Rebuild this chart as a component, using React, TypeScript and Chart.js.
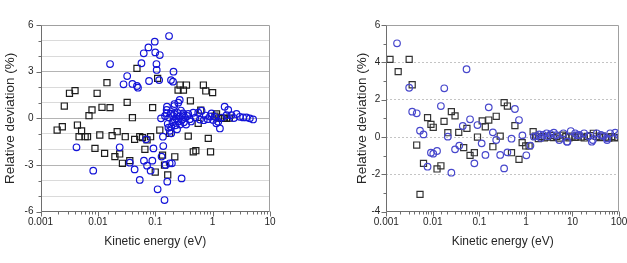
import React, { useEffect, useRef } from 'react';
import { Chart, registerables } from 'chart.js';

Chart.register(...registerables);

const FONT = '"Liberation Sans", Arial, Helvetica, sans-serif';
const TEXT = '#262626';

// ---- Panel A: energies up to 10 eV ----
const leftTickLabels = ['0.001', '0.01', '0.1', '1', '10'];

const leftSquareEnergy = [
  0.00195, 0.0024, 0.0026, 0.0032, 0.004, 0.0044, 0.0047, 0.0052, 0.006, 0.0066,
  0.007, 0.0079, 0.0089, 0.0097, 0.0108, 0.0118, 0.0131, 0.0144, 0.0163, 0.0177,
  0.0198, 0.0217, 0.024, 0.0268, 0.03, 0.0324, 0.036, 0.04, 0.0437, 0.048,
  0.0537, 0.06, 0.066, 0.072, 0.083, 0.09, 0.1, 0.11, 0.12, 0.134,
  0.145, 0.165, 0.178, 0.219, 0.25, 0.27, 0.31, 0.35, 0.376, 0.41,
  0.46, 0.51, 0.56, 0.62, 0.69, 0.76, 0.84, 0.92, 1.0, 1.1,
  1.17, 1.28, 1.44, 1.6, 1.75, 1.95,
];
const leftSquareDev = [
  -0.75, -0.54, 0.79, 1.61, 1.78, -0.43, -1.18, -0.81, -1.18, -1.18,
  0.17, 0.54, -1.93, 1.61, -1.07, 0.71, -2.25, 2.29, 0.69, -1.11,
  -2.46, -0.86, -2.29, -2.89, -1.18, 1.03, -2.72, 0.04, -1.35, 3.21,
  -1.18, -1.24, -1.99, -1.39, -1.18, 0.69, -3.45, 2.57, -0.75, -2.36,
  -3.0, -3.64, -0.96, -2.47, 1.82, 2.14, 1.82, 2.14, -1.14, 1.13,
  -2.15, -2.08, -0.32, 0.53, 2.14, 1.76, -1.29, -2.15, 1.65, 0.15,
  0.28, 0.02, 0.0, 0.0, 0.0, 0.02,
];

const leftCircleEnergy = [
  0.00424, 0.0083, 0.0163, 0.024, 0.028, 0.0324, 0.036, 0.04, 0.0437, 0.048,
  0.05, 0.0537, 0.0575, 0.063, 0.0635, 0.069, 0.072, 0.076, 0.078, 0.083,
  0.089, 0.093, 0.098, 0.1, 0.105, 0.106, 0.11, 0.117, 0.12, 0.126,
  0.129, 0.136, 0.138, 0.145, 0.148, 0.151, 0.158, 0.16, 0.162, 0.174,
  0.178, 0.188, 0.19, 0.195, 0.204, 0.208, 0.216, 0.288, 0.267,
  0.158, 0.165, 0.17, 0.175, 0.18, 0.185, 0.19, 0.2, 0.205, 0.214,
  0.214, 0.22, 0.225, 0.232, 0.24, 0.245, 0.252, 0.255, 0.26, 0.27,
  0.28, 0.29, 0.3, 0.307, 0.315, 0.33, 0.345, 0.36, 0.376, 0.4,
  0.42, 0.459, 0.5, 0.561, 0.6, 0.641, 0.7, 0.76, 0.82, 0.9,
  0.957, 1.02, 1.09, 1.16, 1.25, 1.34, 1.45, 1.62, 1.75, 1.87,
  2.13, 2.35, 2.61, 2.98, 3.4, 3.89, 4.45, 5.08,
];
const leftCircleDev = [
  -1.86, -3.36, 3.49, -1.86, 2.19, 2.72, -2.85, 2.21, -3.28, 2.08,
  1.97, -3.96, 3.54, 4.18, -2.72, -1.35, -3.04, 4.56, 2.4, -3.36,
  -2.72, -1.93, 4.93, 4.24, 3.49, 3.11, -4.56, 2.46, 4.07, 0.0,
  -2.46, -1.18, -1.78, -5.25, 0.15, -3.0, 0.54, 0.75, -4.07, 5.29,
  -2.89, 2.46, -0.96, -2.89, 2.36, 3.0, 0.92, -3.86, 1.18,
  0.32, -0.35, -0.6, 0.05, -0.8, 0.3, -0.55, -0.25, 0.15, 0.79,
  0.28, -0.1, -0.45, 0.0, -0.7, 0.35, 1.01, -0.2, 0.1, -0.4,
  0.5, -0.1, 0.2, 0.32, -0.25, 0.05, -0.4, 0.15, 0.28, -0.05,
  -0.2, 0.36, 0.05, 0.36, -0.08, 0.49, -0.12, 0.18, -0.05, 0.12,
  0.32, -0.1, 0.1, -0.32, -0.22, -0.65, 0.05, 0.75, 0.2, 0.54,
  0.21, 0.02, 0.28, 0.1, 0.06, 0.06, 0.0, -0.07,
];

// ---- Panel B: energies up to 100 eV ----
const rightTickLabels = ['0.001', '0.01', '0.1', '1', '10', '100'];

const rightSquareEnergy = [
  0.0012, 0.0018, 0.0031, 0.0036, 0.0045, 0.0053, 0.0063, 0.0077, 0.0091, 0.0102,
  0.0123, 0.0149, 0.0174, 0.021, 0.025, 0.03, 0.036, 0.046, 0.054, 0.063,
  0.078, 0.091, 0.115, 0.134, 0.159, 0.195, 0.23, 0.28, 0.34, 0.4,
  0.49, 0.58, 0.71, 0.83, 0.99, 1.17, 1.43,
  1.6, 1.85, 2.15, 2.5, 2.9, 3.4, 3.9, 4.6, 5.3, 6.2,
  7.2, 8.4, 9.8, 11.4, 13.2, 15.4, 17.9, 20.8, 24.2, 28.1,
  32.7, 38, 44, 51, 60, 70, 81, 94,
];
const rightSquareDev = [
  4.16, 3.5, 4.16, 2.8, -0.43, -3.07, -1.41, 1.04, 0.68, 0.52,
  -1.71, -1.54, 0.84, 0.23, 1.36, 1.13, 0.25, -0.57, 0.46, -0.98,
  -0.84, 0.0, 0.86, 0.55, 0.91, -0.52, 1.11, 0.05, 1.84, 1.66,
  -0.84, 0.61, -1.2, -0.3, -0.48, -0.48, 0.29,
  0.05, -0.08, 0.02, -0.05, 0.0, 0.08, -0.03, 0.04, -0.06, 0.1,
  0.02, -0.04, 0.05, -0.02, 0.06, 0.0, -0.05, 0.03, 0.08, 0.2,
  0.04, -0.03, 0.05, 0.0, -0.06, 0.02, -0.04, -0.02,
];

const rightCircleEnergy = [
  0.0017, 0.0031, 0.0036, 0.0045, 0.0053, 0.0063, 0.0077, 0.0091, 0.0102, 0.0123,
  0.0149, 0.0176, 0.021, 0.025, 0.03, 0.037, 0.044, 0.053, 0.063, 0.078,
  0.091, 0.112, 0.135, 0.159, 0.195, 0.23, 0.28, 0.34, 0.4, 0.49,
  0.58, 0.71, 0.84, 1.02, 1.25, 1.48,
  1.7, 1.93, 2.1, 2.34, 2.78, 3.0, 3.39, 3.98, 4.5, 5.2,
  6.4, 7.6, 7.8, 9.2, 11.4, 12.5, 14.1, 17.8, 22.1, 26,
  27.4, 33.4, 40.8, 46.5, 55, 55.5, 64.6, 83, 98,
];
const rightCircleDev = [
  5.02, 2.64, 1.36, 1.27, 0.34, 0.14, -1.59, -0.84, -0.89, -0.75,
  1.66, 2.61, 0.02, -1.91, -0.66, -0.46, 0.59, 3.63, 0.95, -1.41,
  0.64, -0.34, -0.96, 1.59, 0.25, -0.16, -0.96, -1.68, -0.82, -0.09,
  1.5, 0.91, 0.09, -0.98, -0.46, 0.02,
  0.05, 0.14, -0.05, 0.11, 0.2, 0.05, 0.16, 0.23, 0.1, -0.16,
  0.2, -0.25, -0.25, 0.32, 0.2, 0.1, 0.11, 0.2, 0.05, -0.25,
  -0.16, 0.2, 0.11, 0.05, -0.07, -0.16, 0.2, 0.23, 0.11,
];

const toPoints = (xs: number[], ys: number[]) => xs.map((x, i) => ({ x, y: ys[i] }));

const isDecade = (v: number) => Math.abs(Math.log10(v) - Math.round(Math.log10(v))) < 1e-6;

// Draws the plot frame plus outward major/minor tick marks on both axes.
const frameTicks = {
  id: 'frameTicks',
  afterDraw(chart: any, _args: any, opts: any) {
    const { ctx, chartArea: a, scales } = chart;
    const xs = scales.x;
    const ys = scales.y;
    const L = Math.round(a.left) + 0.5;
    const R = Math.round(a.right) - 0.5;
    const T = Math.round(a.top) + 0.5;
    const B = Math.round(a.bottom) - 0.5;
    ctx.save();
    ctx.lineWidth = 1;
    ctx.strokeStyle = opts.frameColor;
    ctx.beginPath();
    ctx.moveTo(L, T);
    ctx.lineTo(R, T);
    ctx.lineTo(R, B);
    ctx.stroke();
    ctx.strokeStyle = opts.axisColor;
    ctx.beginPath();
    ctx.moveTo(L, T);
    ctx.lineTo(L, B);
    ctx.lineTo(R, B);
    // x tick marks (log decades long, 2..9 short)
    for (const t of xs.ticks) {
      const px = Math.round(xs.getPixelForValue(t.value)) + 0.5;
      const len = isDecade(t.value) ? 5 : 3;
      ctx.moveTo(px, B);
      ctx.lineTo(px, B + len);
    }
    // y tick marks
    for (const t of ys.ticks) {
      const py = Math.round(ys.getPixelForValue(t.value)) + 0.5;
      const len = Math.abs(t.value % opts.yMajor) < 1e-9 ? 5 : 3;
      ctx.moveTo(L, py);
      ctx.lineTo(L - len, py);
    }
    ctx.stroke();
    ctx.restore();
  },
};

type PanelProps = {
  width: number;
  xMax: number;
  yMin: number;
  yMax: number;
  yMajor: number;
  tickLabels: string[];
  squareE: number[];
  squareD: number[];
  circleE: number[];
  circleD: number[];
  squareColor: string;
  circleColor: string;
  pad: { left: number; right: number };
  yWidth: number;
  yTitlePad: number;
  yLabelPad: number;
  gridColor: (v: number) => string;
  gridDash: number[];
};

function Panel(p: PanelProps) {
  const ref = useRef<HTMLCanvasElement | null>(null);

  useEffect(() => {
    if (!ref.current) return;
    const chart = new Chart(ref.current, {
      type: 'scatter',
      data: {
        datasets: [
          {
            data: toPoints(p.circleE, p.circleD),
            pointStyle: 'circle',
            pointRadius: 3.3,
            pointBorderWidth: 1.2,
            pointBorderColor: p.circleColor,
            pointBackgroundColor: 'rgba(0,0,0,0)',
            showLine: false,
          },
          {
            data: toPoints(p.squareE, p.squareD),
            pointStyle: 'rect',
            pointRadius: 4.3,
            pointBorderWidth: 1.2,
            pointBorderColor: p.squareColor,
            pointBackgroundColor: 'rgba(0,0,0,0)',
            showLine: false,
          },
        ],
      },
      options: {
        animation: false,
        responsive: false,
        maintainAspectRatio: false,
        events: [],
        layout: { padding: { left: p.pad.left, right: p.pad.right, top: 25, bottom: 11 } },
        plugins: {
          legend: { display: false },
          tooltip: { enabled: false },
          frameTicks: { frameColor: '#a0a0a0', axisColor: '#6e6e6e', yMajor: p.yMajor },
        } as any,
        scales: {
          x: {
            type: 'logarithmic',
            min: 0.001,
            max: p.xMax,
            grid: { display: false, drawTicks: false },
            border: { display: false },
            ticks: {
              autoSkip: false,
              maxRotation: 0,
              padding: 5,
              color: TEXT,
              font: { family: FONT, size: 10 },
              callback: (v: any) => {
                const n = Number(v);
                if (!isDecade(n)) return '';
                return p.tickLabels[Math.round(Math.log10(n)) + 3] ?? '';
              },
            },
            title: {
              display: true,
              text: 'Kinetic energy (eV)',
              color: TEXT,
              font: { family: FONT, size: 12 },
              padding: { top: 0, bottom: 3 },
            },
            afterFit: (s: any) => {
              s.height = 40.3;
              s.paddingLeft = 0;
              s.paddingRight = 0;
            },
          } as any,
          y: {
            type: 'linear',
            min: p.yMin,
            max: p.yMax,
            grid: {
              drawTicks: false,
              lineWidth: 1,
              color: (c: any) => p.gridColor(c.tick ? c.tick.value : 0),
            },
            border: { display: false, dash: p.gridDash },
            ticks: {
              stepSize: 1,
              padding: p.yLabelPad,
              color: TEXT,
              font: { family: FONT, size: 10 },
              callback: (v: any) => {
                const n = Number(v);
                return Math.abs(n % p.yMajor) < 1e-9 ? String(n) : '';
              },
            },
            title: {
              display: true,
              text: 'Relative deviation (%)',
              color: TEXT,
              font: { family: FONT, size: 13.5 },
              padding: { top: p.yTitlePad, bottom: 0 },
            },
            afterFit: (s: any) => {
              s.width = p.yWidth;
              s.paddingTop = 0;
              s.paddingBottom = 0;
            },
          } as any,
        },
      },
      plugins: [frameTicks as any],
    });
    return () => chart.destroy();
  }, []);

  return (
    <canvas
      ref={ref}
      width={p.width}
      height={263}
      style={{ display: 'block', width: p.width, height: 263 }}
    />
  );
}

export default function App() {
  return (
    <div
      style={{
        position: 'absolute',
        left: 0,
        top: 0,
        width: 627,
        height: 263,
        background: '#ffffff',
        display: 'flex',
      }}
    >
      <Panel
        width={313}
        xMax={10}
        yMin={-6}
        yMax={6}
        yMajor={3}
        tickLabels={leftTickLabels}
        squareE={leftSquareEnergy}
        squareD={leftSquareDev}
        circleE={leftCircleEnergy}
        circleD={leftCircleDev}
        squareColor="#1c1c1c"
        circleColor="#1414d8"
        pad={{ left: 0, right: 43 }}
        yWidth={40.5}
        yTitlePad={2}
        yLabelPad={7}
        gridColor={(v) =>
          Math.abs(v) >= 6 ? 'rgba(0,0,0,0)' : v % 3 === 0 ? '#b4b4b4' : '#dadada'
        }
        gridDash={[]}
      />
      <Panel
        width={314}
        xMax={100}
        yMin={-4}
        yMax={6}
        yMajor={2}
        tickLabels={rightTickLabels}
        squareE={rightSquareEnergy}
        squareD={rightSquareDev}
        circleE={rightCircleEnergy}
        circleD={rightCircleDev}
        squareColor="#333333"
        circleColor="#4848cc"
        pad={{ left: 36, right: 8 }}
        yWidth={37.3}
        yTitlePad={5.4}
        yLabelPad={6}
        gridColor={(v) =>
          v === 6 || v === -4 || v % 2 !== 0 ? 'rgba(0,0,0,0)' : '#c4c4c4'
        }
        gridDash={[2, 2]}
      />
    </div>
  );
}
